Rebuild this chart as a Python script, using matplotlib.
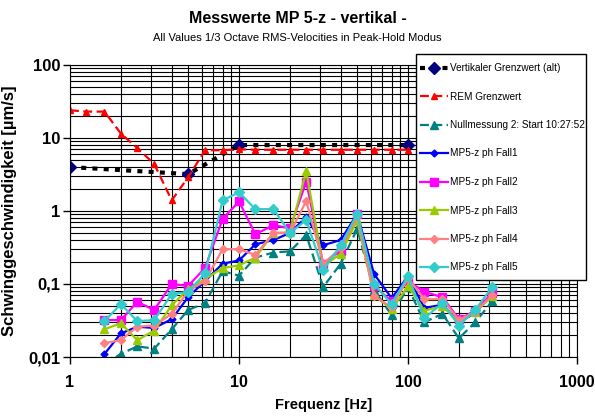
import numpy as np
import matplotlib
matplotlib.use("Agg")
import matplotlib.pyplot as plt
from matplotlib.patches import Rectangle
from matplotlib.ticker import FixedLocator, LogLocator, NullFormatter

plt.rcParams['font.family'] = ['Liberation Sans', 'DejaVu Sans']

# Terzband-Frequenzen
freqs = [1, 1.25, 1.6, 2, 2.5, 3.15, 4, 5, 6.3, 8, 10, 12.5, 16, 20, 25,
         31.5, 40, 50, 63, 80, 100, 125, 160, 200, 250, 315]
mess_freqs = freqs[2:]

# Grenzwerte
vert_freqs = [1, 5, 10, 100]
vert_alt = [4, 3.2, 8, 8]
rem_freqs = freqs[:21]
rem = [24, 23, 23, 11.5, 7.3, 4.4, 1.4, 2.9, 6.8, 6.8, 7.0, 6.9, 6.9, 6.9,
       6.9, 6.9, 6.9, 6.9, 6.9, 6.9, 6.9]

# Messwerte (1.6 .. 315 Hz)
null2 = [0.008, 0.011, 0.014, 0.013, 0.024, 0.044, 0.055, 0.15, 0.13, 0.23,
         0.27, 0.28, 0.47, 0.091, 0.19, 0.57, 0.083, 0.0375, 0.09, 0.03,
         0.039, 0.018, 0.03, 0.058]
fall1 = [0.011, 0.021, 0.026, 0.025, 0.033, 0.066, 0.11, 0.19, 0.21, 0.35,
         0.40, 0.50, 0.83, 0.34, 0.40, 0.91, 0.137, 0.064, 0.128, 0.047,
         0.052, 0.03, 0.04, 0.075]
fall2 = [0.032, 0.032, 0.057, 0.044, 0.10, 0.094, 0.166, 0.78, 1.35, 0.48,
         0.64, 0.58, 2.5, 0.19, 0.29, 0.91, 0.094, 0.058, 0.11, 0.078,
         0.066, 0.033, 0.043, 0.075]
fall3 = [0.024, 0.029, 0.017, 0.023, 0.051, 0.085, 0.117, 0.166, 0.18, 0.23,
         0.50, 0.51, 3.5, 0.176, 0.26, 0.75, 0.07, 0.045, 0.094, 0.043,
         0.05, 0.03, 0.041, 0.068]
fall4 = [0.0155, 0.017, 0.026, 0.027, 0.039, 0.08, 0.11, 0.30, 0.30, 0.25,
         0.50, 0.50, 1.37, 0.19, 0.31, 0.85, 0.068, 0.048, 0.12, 0.062,
         0.062, 0.032, 0.042, 0.07]
fall5 = [0.031, 0.053, 0.031, 0.032, 0.073, 0.078, 0.14, 1.4, 1.8, 1.06,
         1.06, 0.50, 0.75, 0.155, 0.34, 0.91, 0.10, 0.053, 0.128, 0.034,
         0.055, 0.027, 0.044, 0.091]

y_ticks = [0.01, 0.1, 1, 10, 100]
y_labels = ['0,01', '0,1', '1', '10', '100']
x_ticks = [1, 10, 100, 1000]
x_labels = ['1', '10', '100', '1000']

fig = plt.figure(figsize=(5.95, 4.18), dpi=100)
ax = fig.add_axes([70 / 595, 1 - 357 / 418, 507 / 595, 292 / 418])

ax.plot(vert_freqs, vert_alt, color='black', ls=(0, (1.2, 1.5)), lw=3,
        marker='D', ms=6, mfc='#000080', mec='#000080',
        label='Vertikaler Grenzwert (alt)')
ax.plot(rem_freqs, rem, color='red', ls=(0, (4, 2)), lw=1.6,
        marker='^', ms=5, label='REM Grenzwert')
ax.plot(mess_freqs, null2, color='#008080', ls=(0, (4, 2)), lw=1.6,
        marker='^', ms=6, label='Nullmessung 2: Start 10:27:52')
ax.plot(mess_freqs, fall1, color='#0000FF', lw=1.6, marker='D', ms=3.5,
        label='MP5-z ph Fall1')
ax.plot(mess_freqs, fall2, color='#FF00FF', lw=1.6, marker='s', ms=6,
        label='MP5-z ph Fall2')
ax.plot(mess_freqs, fall3, color='#99CC00', lw=1.6, marker='^', ms=6,
        label='MP5-z ph Fall3')
ax.plot(mess_freqs, fall4, color='#FF8080', lw=1.6, marker='D', ms=4.5,
        label='MP5-z ph Fall4')
ax.plot(mess_freqs, fall5, color='#33CCCC', lw=1.6, marker='D', ms=5,
        label='MP5-z ph Fall5')

ax.set_xscale('log')
ax.set_yscale('log')
ax.set_xlim(1, 1000)
ax.set_ylim(0.01, 100)

ax.xaxis.set_major_locator(FixedLocator(x_ticks))
ax.set_xticklabels(x_labels)
ax.yaxis.set_major_locator(FixedLocator(y_ticks))
ax.set_yticklabels(y_labels)
ax.xaxis.set_minor_locator(LogLocator(base=10, subs=np.arange(2, 10)))
ax.yaxis.set_minor_locator(LogLocator(base=10, subs=np.arange(2, 10)))
ax.xaxis.set_minor_formatter(NullFormatter())
ax.yaxis.set_minor_formatter(NullFormatter())

ax.grid(which='both', color='black', lw=0.8)
ax.set_axisbelow(True)
ax.tick_params(which='major', length=5, width=1, labelsize=12)
ax.tick_params(axis='x', which='major', pad=8, labelsize=11.5)
ax.tick_params(axis='y', which='major', pad=2)
ax.tick_params(which='minor', length=0)
for lbl in ax.get_xticklabels() + ax.get_yticklabels():
    lbl.set_fontweight('bold')
for s in ax.spines.values():
    s.set_color('black')
    s.set_linewidth(0.8)

ax.set_xlabel('Frequenz [Hz]', fontsize=10.5, fontweight='bold', labelpad=6)
ax.set_ylabel('Schwinggeschwindigkeit [µm/s]', fontsize=12,
              fontweight='bold')
ax.yaxis.set_label_coords(-0.105, 0.5)

fig.text(0.5, 0.955, 'Messwerte MP 5-z - vertikal -', ha='center',
         va='center', fontsize=11.5, fontweight='bold')
fig.text(0.5, 0.909, 'All Values 1/3 Octave RMS-Velocities in Peak-Hold Modus',
         ha='center', va='center', fontsize=8)

# Legendenrahmen
frame = Rectangle((416 / 595, 1 - 280 / 418), 170 / 595, 226 / 418,
                  transform=fig.transFigure, facecolor='white',
                  edgecolor='black', lw=1, clip_on=False, zorder=8)
ax.add_patch(frame)

leg = ax.legend(loc='upper left', bbox_to_anchor=(417 / 595, 1 - 60 / 418),
                bbox_transform=fig.transFigure, fontsize=7.2, frameon=False,
                labelspacing=1.85, handlelength=2.8, handletextpad=0.25,
                borderpad=0.3, borderaxespad=0)
leg.set_zorder(10)

fig.savefig('out.png', dpi=100)
